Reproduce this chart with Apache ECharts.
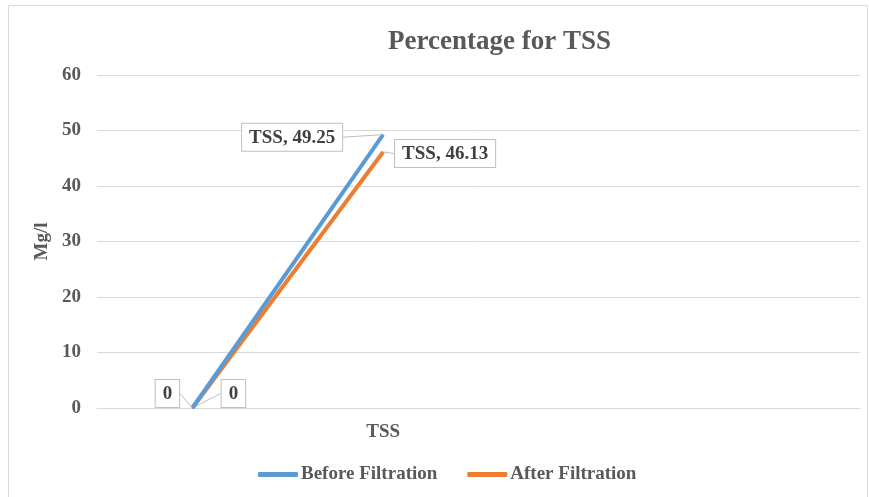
<!DOCTYPE html>
<html>
<head>
<meta charset="utf-8">
<script src="https://cdn.jsdelivr.net/npm/echarts@6/dist/echarts.min.js"></script>
<style>
  html, body { margin: 0; padding: 0; background: #fff; }
  #chart { width: 869px; height: 497px; }
</style>
</head>
<body>
<div id="chart"></div>
<script>
// Categories along the x axis (blank slots keep TSS in the second band)
const categories = ['', 'TSS', '', ''];
// Measured TSS values (Mg/l)
const beforeFiltration = [0, 49.25, null, null];
const afterFiltration = [0, 46.13, null, null];
// Y axis range
const yMin = 0, yMax = 60, yStep = 10;

const FONT = '"Liberation Serif", "Times New Roman", serif';
const TEXT = '#595959';

// Offsets of the callout boxes from their points, per series and point
const beforeOffsets = { 0: [-25, 4.5], 1: [-91, 21.5] };
const afterOffsets = { 0: [41, 4.5], 1: [62, 20.5] };

function calloutLabel() {
  return {
    show: true,
    position: 'top',
    distance: 5,
    formatter: p => (p.name ? p.name + ', ' : '') + p.value,
    fontFamily: FONT,
    fontWeight: 'bold',
    fontSize: 19,
    lineHeight: 20,
    color: '#404040',
    backgroundColor: '#fff',
    borderColor: '#bfbfbf',
    borderWidth: 1,
    padding: [4, 7, 3, 7]
  };
}

function series(name, values, color, offsets) {
  return {
    name,
    type: 'line',
    data: values,
    symbol: 'circle',
    symbolSize: 1,
    showSymbol: true,
    itemStyle: { color },
    lineStyle: { color, width: 4 },
    label: calloutLabel(),
    labelLine: { show: true, lineStyle: { color: '#bfbfbf', width: 1 } },
    labelLayout: p => {
      const o = offsets[p.dataIndex] || [0, 0];
      return { dx: o[0], dy: o[1] };
    },
    z: name === 'Before Filtration' ? 3 : 2
  };
}

const chart = echarts.init(document.getElementById('chart'), null, { renderer: 'canvas' });
chart.setOption({
  animation: false,
  backgroundColor: '#fff',
  title: {
    text: 'Percentage for TSS',
    left: 383,
    top: 24,
    textStyle: { fontFamily: FONT, fontWeight: 'bold', fontSize: 27, color: TEXT }
  },
  graphic: [{
    type: 'rect',
    shape: { x: 8.5, y: 5.5, width: 859, height: 500 },
    style: { fill: 'none', stroke: '#d9d9d9', lineWidth: 1 },
    silent: true
  }],
  legend: {
    left: 253,
    top: 460,
    itemWidth: 40,
    itemHeight: 5,
    itemGap: 30,
    icon: 'roundRect',
    textStyle: { fontFamily: FONT, fontWeight: 'bold', fontSize: 19, color: TEXT, padding: [0, 0, 0, -2] },
    data: ['Before Filtration', 'After Filtration']
  },
  grid: { left: 97, right: 9, top: 75, bottom: 89, containLabel: false },
  xAxis: {
    type: 'category',
    data: categories,
    boundaryGap: true,
    axisLine: { lineStyle: { color: '#d9d9d9', width: 1 } },
    axisTick: { show: false },
    axisLabel: { fontFamily: FONT, fontWeight: 'bold', fontSize: 19, color: TEXT, margin: 15 }
  },
  yAxis: {
    type: 'value',
    min: yMin,
    max: yMax,
    interval: yStep,
    name: 'Mg/l',
    nameLocation: 'middle',
    nameRotate: 90,
    nameGap: 41,
    nameTextStyle: { fontFamily: FONT, fontWeight: 'bold', fontSize: 19, color: TEXT },
    axisLine: { show: false },
    axisTick: { show: false },
    axisLabel: { fontFamily: FONT, fontWeight: 'bold', fontSize: 19, color: TEXT, margin: 16 },
    splitLine: { lineStyle: { color: '#d9d9d9', width: 1 } }
  },
  series: [
    series('Before Filtration', beforeFiltration, '#5b9bd5', beforeOffsets),
    series('After Filtration', afterFiltration, '#ed7d31', afterOffsets)
  ]
});
</script>
</body>
</html>
